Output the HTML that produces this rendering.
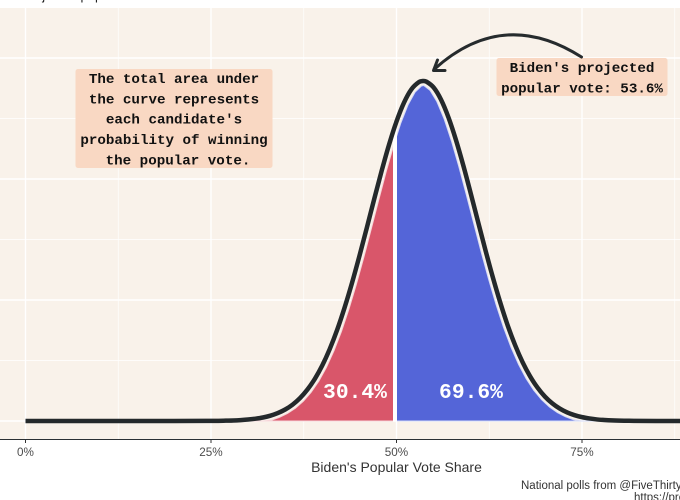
<!DOCTYPE html>
<html>
<head>
<meta charset="utf-8">
<title>Biden's Popular Vote Share</title>
<style>
html,body{margin:0;padding:0;background:#fff;width:680px;height:500px;overflow:hidden}
svg{display:block}
text{font-family:"Liberation Sans",sans-serif}
.mono{font-family:"Liberation Mono",monospace;font-weight:bold}
</style>
</head>
<body>
<svg id="chart" width="680" height="500" viewBox="0 0 680 500" xmlns="http://www.w3.org/2000/svg">
  <defs>
    <clipPath id="red-clip"><rect x="0" y="0" width="393" height="421.5"/></clipPath>
    <clipPath id="blue-clip"><rect x="397" y="0" width="283" height="421.5"/></clipPath>
  </defs>
  <text x="22" y="0" font-size="13" fill="#222">Projected popular vote</text>
  <rect x="0" y="8" width="680" height="431" fill="#f9f2ea"/>
  <g id="grid"></g>
  <g id="marks"></g>
  <g id="axis"></g>
  <text x="396.5" y="472" font-size="14" text-anchor="middle" fill="#333">Biden's Popular Vote Share</text>

  <g>
    <rect x="75.5" y="69" width="197" height="99" rx="2.5" fill="#f9d8c3"/>
    <g class="mono" font-size="14.2" fill="#111" text-anchor="middle">
      <text class="mono" x="174" y="83">The total area under</text>
      <text class="mono" x="174" y="103.3">the curve represents</text>
      <text class="mono" x="174" y="123.6">each candidate's</text>
      <text class="mono" x="174" y="144">probability of winning</text>
      <text class="mono" x="178" y="164.3">the popular vote.</text>
    </g>
  </g>

  <g>
    <rect x="496.5" y="58" width="171" height="38" rx="2.5" fill="#f9d8c3"/>
    <g font-size="14.2" fill="#111" text-anchor="middle">
      <text class="mono" x="582" y="72">Biden's projected</text>
      <text class="mono" x="582" y="92.3">popular vote: 53.6%</text>
    </g>
  </g>

  <g fill="none" stroke="#262b2d" stroke-width="3" stroke-linecap="round" stroke-linejoin="round">
    <path d="M581.5 57 Q503 7 434 69.5"/>
    <path d="M445 70.5 L433.5 70.5 L437.5 60"/>
  </g>

  <text x="521" y="489" font-size="11.5" fill="#333">National polls from @FiveThirtyEight</text>
  <text x="634" y="501" font-size="11.5" fill="#333">https://projects.fivethirtyeight.com</text>
</svg>
<script>
var shares = [0,10,20,25,26,27,28,29,30,31,32,33,34,35,36,37,38,39,40,41,42,43,44,45,46,47,48,49,50,51,52,53,53.6,54,55,56,57,58,59,60,61,62,63,64,65,66,67,68,69,70,71,72,73,74,75,76,77,78,79,80,81,82,85,90];
var density = [0,0,0,0.002,0.003,0.006,0.009,0.015,0.024,0.038,0.058,0.088,0.131,0.19,0.271,0.379,0.52,0.698,0.919,1.189,1.506,1.873,2.281,2.726,3.194,3.67,4.135,4.569,4.951,5.26,5.481,5.6,5.62,5.611,5.513,5.312,5.019,4.65,4.225,3.764,3.289,2.818,2.367,1.951,1.575,1.249,0.97,0.739,0.552,0.404,0.291,0.205,0.141,0.096,0.064,0.042,0.026,0.017,0.01,0.006,0.004,0.002,0,0];
var xTicks = [0,25,50,75];
var xMinorTicks = [12.5,37.5,62.5,87.5];
var yMajor = [0,2,4,6];
var yMinor = [1,3,5];
var splitShare = 50;
var redLabel = "30.4%";
var blueLabel = "69.6%";

function xScale(v){ return 25.5 + v * 7.42; }
function yScale(v){ return 421 - v * 60.5; }
var NS = "http://www.w3.org/2000/svg";
function make(tag, attrs, parent){
  var el = document.createElementNS(NS, tag);
  for (var k in attrs) el.setAttribute(k, attrs[k]);
  parent.appendChild(el);
  return el;
}
var grid = document.getElementById("grid");
var marks = document.getElementById("marks");
var axis = document.getElementById("axis");

yMinor.forEach(function(v){
  var l = make("line", {x1:0, x2:680, y1:yScale(v), y2:yScale(v), stroke:"#fff", "stroke-width":0.7}, grid);
  
  
});
xMinorTicks.forEach(function(v){
  var l = make("line", {x1:xScale(v), x2:xScale(v), y1:8, y2:439, stroke:"#fff", "stroke-width":0.7}, grid);
  
  
});
yMajor.forEach(function(v){
  var l = make("line", {x1:0, x2:680, y1:yScale(v), y2:yScale(v), stroke:"#fff", "stroke-width":1.4}, grid);
  
  
});
xTicks.forEach(function(v){
  var l = make("line", {x1:xScale(v), x2:xScale(v), y1:8, y2:439, stroke:"#fff", "stroke-width":1.4}, grid);
  
  
});

var screenPts = shares.map(function(s,i){ return [xScale(s), yScale(density[i])]; });

function smoothPath(p){
  var d = "M" + p[0][0] + " " + p[0][1];
  for (var i = 0; i < p.length - 1; i++) {
    var a = p[Math.max(i-1,0)], b = p[i], c = p[i+1], e = p[Math.min(i+2,p.length-1)];
    var span = c[0] - b[0];
    var m1 = (c[1] - a[1]) / (c[0] - a[0]);
    var m2 = (e[1] - b[1]) / (e[0] - b[0]);
    d += "C" + (b[0] + span/3) + " " + (b[1] + m1*span/3) + " " + (c[0] - span/3) + " " + (c[1] - m2*span/3) + " " + c[0] + " " + c[1];
  }
  return d;
}

var insetPx = 4.6;
var insetPts = screenPts.map(function(pt,i){
  var a = screenPts[Math.max(i-1,0)], c = screenPts[Math.min(i+1,screenPts.length-1)];
  var dx = c[0]-a[0], dy = c[1]-a[1], len = Math.sqrt(dx*dx+dy*dy);
  return [pt[0] - dy/len*insetPx, Math.min(pt[1] + dx/len*insetPx, yScale(0))];
});
var insetD = "M" + insetPts[0][0] + " " + yScale(0);
insetPts.forEach(function(p){ insetD += "L" + p[0] + " " + p[1]; });
insetD += "L" + insetPts[insetPts.length-1][0] + " " + yScale(0) + "Z";

var red = make("path", {d:insetD, fill:"#d9566a", stroke:"#f6d5d8", "stroke-width":1, "clip-path":"url(#red-clip)"}, marks);


var blue = make("path", {d:insetD, fill:"#5465d8", stroke:"#d5daf7", "stroke-width":1, "clip-path":"url(#blue-clip)"}, marks);


var divider = make("line", {x1:xScale(splitShare)-1.5, x2:xScale(splitShare)-1.5, y1:yScale(0)+0.5, y2:yScale(density[shares.indexOf(splitShare)]), stroke:"#fff", "stroke-width":4}, marks);



var curve = make("path", {d:smoothPath(screenPts), fill:"none", stroke:"#24292b", "stroke-width":4.5, "stroke-linejoin":"round"}, marks);



var t1 = make("text", {x:355, y:398, "font-size":21.3, fill:"#fff", "text-anchor":"middle", "class":"mono"}, marks);
t1.textContent = redLabel;


var t2 = make("text", {x:471, y:398, "font-size":21.3, fill:"#fff", "text-anchor":"middle", "class":"mono"}, marks);
t2.textContent = blueLabel;



var axisLine = make("line", {x1:0, x2:680, y1:439.5, y2:439.5, stroke:"#2b3034", "stroke-width":1}, axis);


xTicks.forEach(function(v){
  var t = make("line", {x1:xScale(v), x2:xScale(v), y1:440, y2:443, stroke:"#333", "stroke-width":1}, axis);
  
  
  var lab = make("text", {x:xScale(v), y:456, "font-size":11.7, fill:"#4d4d4d", "text-anchor":"middle"}, axis);
  lab.textContent = v + "%";
  
  
});
</script>
</body>
</html>
